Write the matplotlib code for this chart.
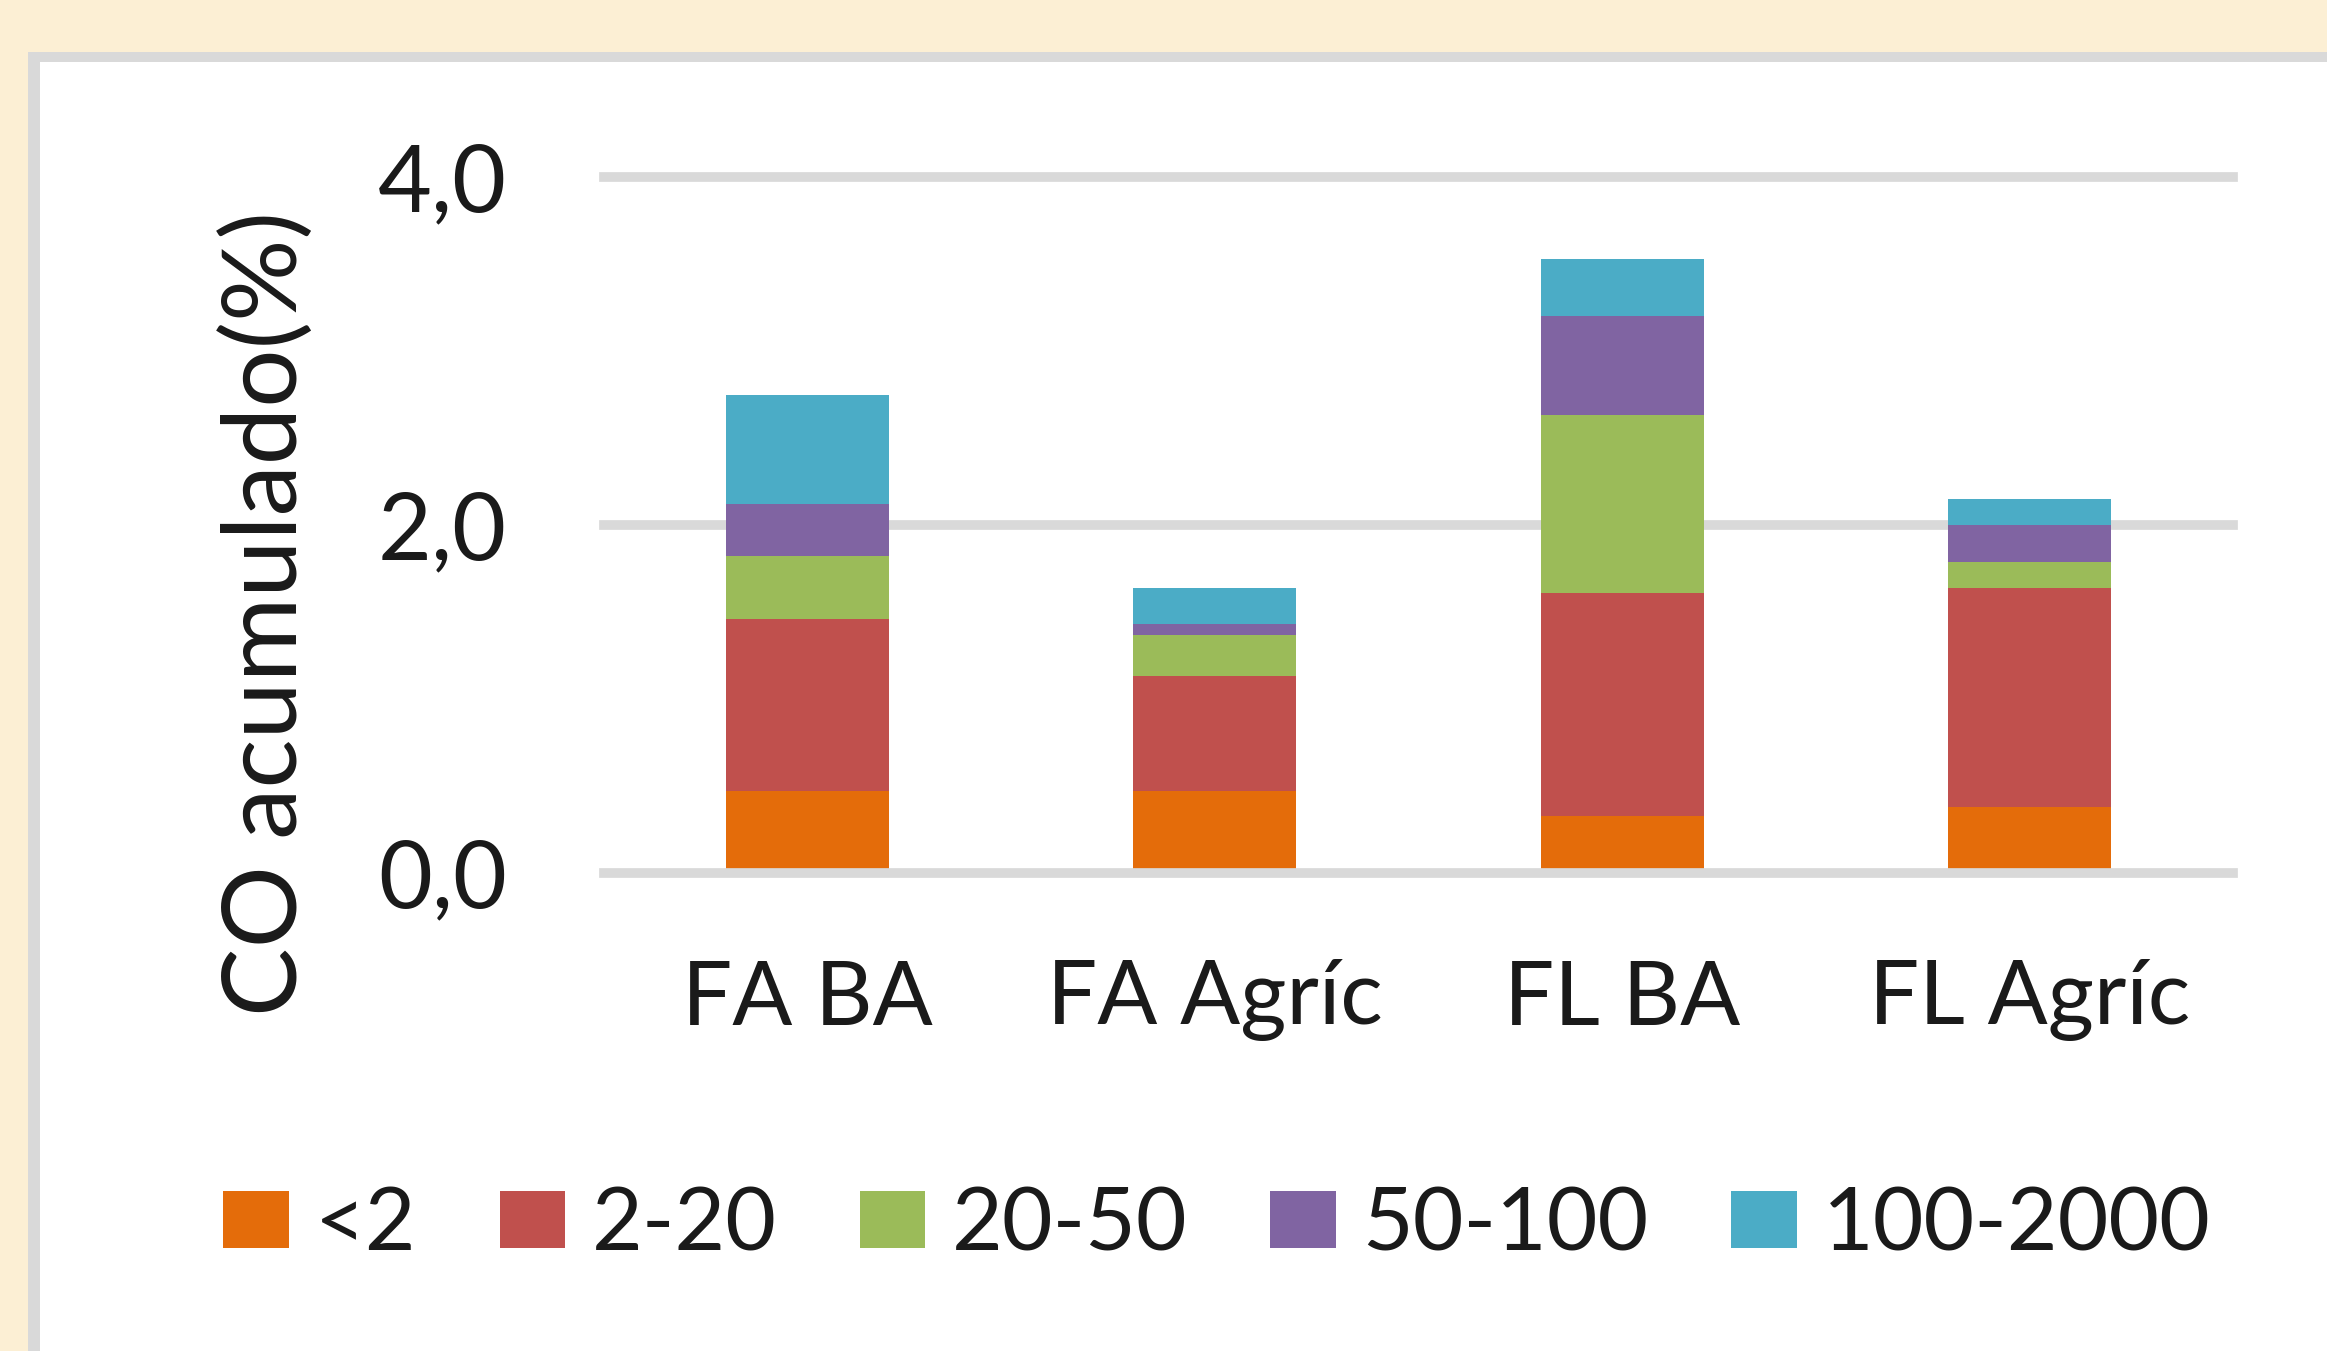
import matplotlib
matplotlib.use("Agg")
import matplotlib.pyplot as plt
from matplotlib.patches import Rectangle
import numpy as np

# Accumulated organic carbon (%) by particle-size fraction (µm)
sites = ["FA BA", "FA Agríc", "FL BA", "FL Agríc"]
fractions = ["<2", "2-20", "20-50", "50-100", "100-2000"]
frac_lt2 = [0.47, 0.47, 0.33, 0.38]
frac_2_20 = [0.99, 0.66, 1.28, 1.26]
frac_20_50 = [0.36, 0.24, 1.02, 0.15]
frac_50_100 = [0.30, 0.06, 0.57, 0.21]
frac_100_2000 = [0.63, 0.21, 0.33, 0.15]
y_ticks = [0.0, 2.0, 4.0]
y_tick_labels = ["0,0", "2,0", "4,0"]
y_title = "CO acumulado(%)"

series = [frac_lt2, frac_2_20, frac_20_50, frac_50_100, frac_100_2000]
colors = ["#E46C0A", "#C0504D", "#9BBB59", "#8064A2", "#4BACC6"]
grid_color = "#D9D9D9"
paper = "#FCEFD4"

plt.rcParams["font.family"] = ["Lato", "DejaVu Sans"]

W, H = 2327, 1351
fig = plt.figure(figsize=(W / 100, H / 100), dpi=100, facecolor=paper)

# white card with a light grey frame on the top and left edges
def px_rect(x0, y0, x1, y1, color, z):
    fig.patches.append(Rectangle((x0 / W, 1 - y1 / H), (x1 - x0) / W, (y1 - y0) / H,
                                 transform=fig.transFigure, facecolor=color,
                                 edgecolor="none", zorder=z))

px_rect(28, 52, W + 5, H + 5, grid_color, -3)
px_rect(40, 62, W + 5, H + 5, "white", -2)

ax = fig.add_axes([604 / W, 1 - 873 / H, 1629 / W, 696 / H])
ax.set_facecolor("none")
ax.set_zorder(1)

x = np.arange(len(sites))
bottom = np.zeros(len(sites))
for vals, col, name in zip(series, colors, fractions):
    ax.bar(x, vals, width=0.40, bottom=bottom, color=col, label=name, zorder=2,
           linewidth=0)
    bottom += np.array(vals)

ax.set_xlim(-0.5, len(sites) - 0.5)
ax.set_ylim(0, 4)
for yv in y_ticks[1:]:
    ax.axhline(yv, color=grid_color, linewidth=7, zorder=1, clip_on=False)
ax.axhline(0, color=grid_color, linewidth=7, zorder=3, clip_on=False)

for s in ax.spines.values():
    s.set_visible(False)

ax.set_yticks(y_ticks)
ax.set_yticklabels(y_tick_labels)
ax.set_xticks(x)
ax.set_xticklabels(sites)
ax.tick_params(axis="y", length=0, pad=70, labelsize=67, labelcolor="#1a1a1a")
ax.tick_params(axis="x", length=0, pad=62, labelsize=64, labelcolor="#1a1a1a")

fig.text(267 / W, 1 - 614 / H, y_title, rotation=90, ha="center", va="center",
         fontsize=74, color="#1a1a1a")

fig.legend(loc="center", bbox_to_anchor=(0.523, 1 - 1226 / H), ncol=5,
           frameon=False, fontsize=63, handlelength=0.75, handleheight=0.62,
           handletextpad=0.3, columnspacing=0.95, borderpad=0, labelcolor="#1a1a1a")

fig.savefig("out.png", dpi=100, facecolor=paper)
